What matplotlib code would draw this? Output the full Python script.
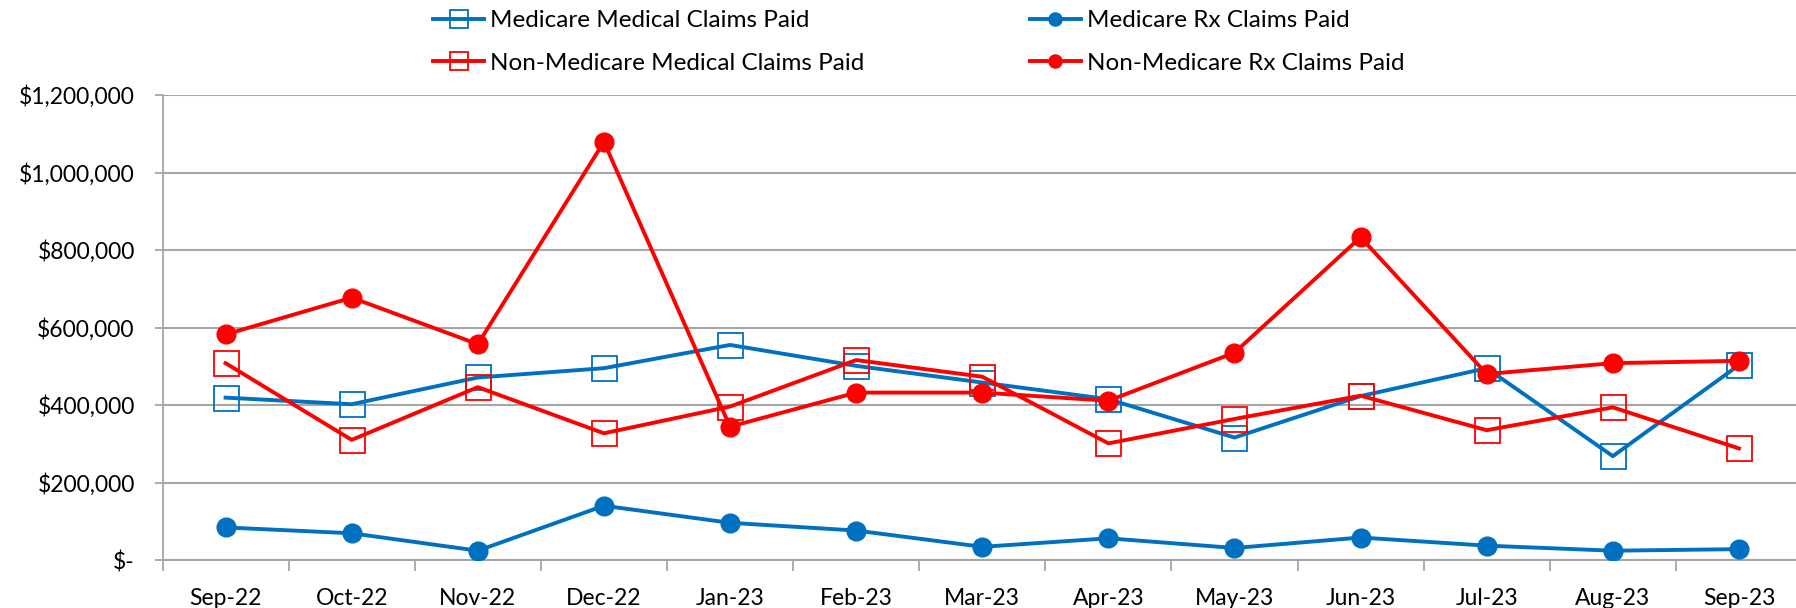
import matplotlib
matplotlib.use("Agg")
import matplotlib.pyplot as plt
from matplotlib.ticker import FuncFormatter, FixedLocator

plt.rcParams["font.family"] = ["Lato", "DejaVu Sans"]

months = ["Sep-22", "Oct-22", "Nov-22", "Dec-22", "Jan-23", "Feb-23", "Mar-23",
          "Apr-23", "May-23", "Jun-23", "Jul-23", "Aug-23", "Sep-23"]

medicare_medical = [419000, 402000, 471000, 495000, 555000, 501000, 458000,
                    415000, 316000, 423000, 495000, 268000, 503000]
medicare_rx = [84000, 69000, 24000, 140000, 96000, 76000, 34000,
               56000, 31000, 58000, 37000, 24000, 28000]
non_medicare_medical = [508000, 310000, 446000, 327000, 396000, 516000, 473000,
                        301000, 364000, 424000, 335000, 394000, 288000]
non_medicare_rx = [582000, 677000, 557000, 1079000, 344000, 432000, 432000,
                   411000, 535000, 833000, 480000, 508000, 514000]

BLUE = "#0070C0"
RED = "#FF0000"

W, H = 1796, 608
fig = plt.figure(figsize=(W / 100, H / 100), dpi=100)
ax = fig.add_axes([162.5 / W, 48 / H, (1802 - 162.5) / W, (560 - 95) / H])

x = list(range(len(months)))

# ── series ──
sq = dict(marker="s", markersize=18, markerfacecolor="none", markeredgewidth=1.3)
dot = dict(marker="o", markersize=13.5)
ax.plot(x, medicare_medical, color=BLUE, lw=2.8, markeredgecolor=BLUE,
        label="Medicare Medical Claims Paid", zorder=3, **sq)
ax.plot(x, non_medicare_medical, color=RED, lw=2.8, markeredgecolor=RED,
        label="Non-Medicare Medical Claims Paid", zorder=3, **sq)
ax.plot(x, medicare_rx, color=BLUE, lw=2.8, label="Medicare Rx Claims Paid",
        zorder=4, **dot)
ax.plot(x, non_medicare_rx, color=RED, lw=2.8, label="Non-Medicare Rx Claims Paid",
        zorder=4, **dot)

# ── axes ──
ax.set_ylim(0, 1200000)
ax.set_xlim(-0.5, len(months) - 0.5)
ax.yaxis.set_major_locator(FixedLocator(range(0, 1200001, 200000)))
ax.yaxis.set_major_formatter(FuncFormatter(lambda v, _: "$-" if v == 0 else f"${v:,.0f}"))
ax.grid(axis="y", color="#A6A6A6", lw=1.5)
ax.set_axisbelow(True)

ax.set_xticks(x)
ax.set_xticklabels(months)
ax.set_xticks([i - 0.5 for i in range(len(months) + 1)], minor=True)
ax.tick_params(axis="x", which="major", length=0, pad=20, labelsize=16.5)
ax.tick_params(axis="x", which="minor", length=8, color="#A6A6A6", width=1.3)
ax.tick_params(axis="y", length=6, color="#A6A6A6", width=1.3, pad=14, labelsize=16.5)

for s in ["top", "right"]:
    ax.spines[s].set_visible(False)
ax.spines["left"].set_color("#A6A6A6")
ax.spines["left"].set_linewidth(1.3)
ax.spines["bottom"].set_color("#A6A6A6")
ax.spines["bottom"].set_linewidth(1.5)

# ── legend ──
handles, labels = ax.get_legend_handles_labels()
leg = fig.legend(handles, labels, ncol=2, loc="upper left",
                 bbox_to_anchor=(433 / W, 1 - 10 / H), frameon=False, fontsize=17.5,
                 borderpad=0, borderaxespad=0,
                 handlelength=2.1, handletextpad=0.25, columnspacing=6.8,
                 labelspacing=0.9, markerscale=0.7)

fig.savefig("out.png", dpi=100)
